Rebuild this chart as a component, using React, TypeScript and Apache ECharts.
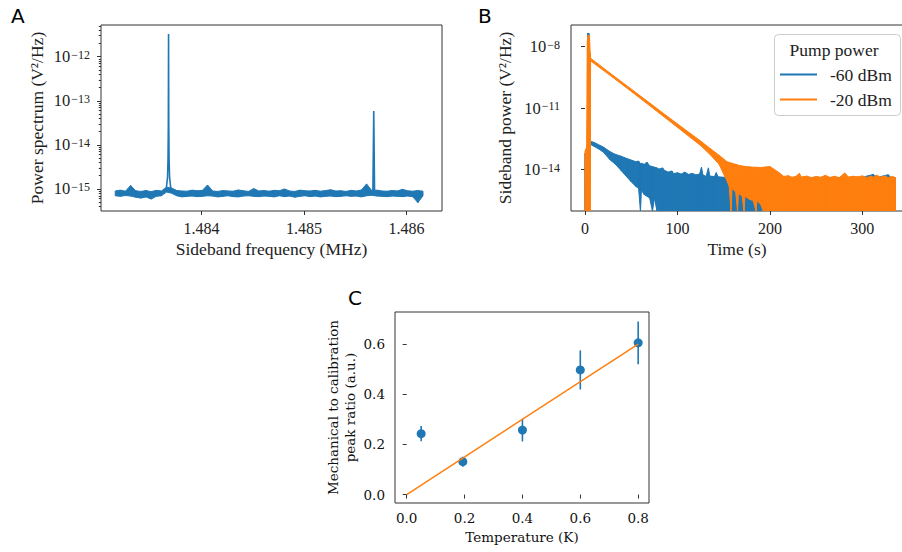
import React, { useEffect, useRef } from "react";
import * as echarts from "echarts";

// ---------------- Panel A: power spectrum ----------------
const A_FREQ_START = 1.48316; // MHz, first noise bin
const A_FREQ_STEP = 0.00005; // MHz per bin
// noise floor envelope per bin, in units of 1e-16 V^2/Hz
const aNoiseUpper = [
  9.0, 9.4, 8.9, 12.0, 9.1, 8.8, 9.2, 8.7, 9.3, 9.0, 11.0, 10.5, 9.2, 9.0, 8.9, 9.4, 9.1, 9.3, 12.3, 9.0,
  8.8, 9.2, 9.0, 8.9, 9.5, 9.1, 8.8, 10.2, 9.0, 9.2, 8.9, 9.3, 9.1, 10.0, 9.0, 8.8, 9.4, 9.1, 9.0, 9.3,
  8.9, 9.2, 9.6, 9.0, 9.1, 8.8, 9.3, 9.0, 9.5, 13.0, 9.2, 9.4, 9.0, 8.9, 9.2, 9.0, 9.8, 9.1, 8.9, 9.2,
  8.9,
];
const aNoiseLower = [
  7.0, 6.8, 7.1, 6.9, 6.5, 6.2, 6.6, 5.9, 6.8, 7.0, 8.5, 8.0, 7.0, 6.6, 6.8, 6.9, 6.7, 6.8, 7.0, 6.9,
  6.6, 6.8, 7.0, 6.7, 6.6, 6.9, 7.0, 6.8, 6.7, 6.9, 6.8, 6.6, 7.0, 6.7, 6.9, 6.5, 6.8, 7.0, 6.7, 6.9,
  6.6, 6.8, 6.9, 6.7, 6.8, 7.0, 6.8, 6.9, 6.6, 7.0, 7.2, 6.9, 6.8, 6.7, 6.9, 6.8, 6.7, 6.9, 6.7, 4.9,
  7.0,
];
// [frequency MHz, power V^2/Hz]
const aPeak1: [number, number][] = [
  [1.483655, 9e-16], [1.48367, 1.8e-15], [1.483675, 5e-15], [1.483678, 3e-14],
  [1.48368, 3.3e-12], [1.483682, 3e-14], [1.483685, 5e-15], [1.48369, 1.8e-15],
  [1.483705, 9e-16],
];
const aPeak2: [number, number][] = [[1.485672, 9e-16], [1.48568, 5.9e-14], [1.485688, 9e-16]];
const aXTicks = [1.484, 1.485, 1.486];
const aYTickExps = [-15, -14, -13, -12];

// ---------------- Panel B: ring-down ----------------
// [time s, upper envelope V^2/Hz, lower envelope V^2/Hz]
const bBlue: [number, number, number][] = [
  [0, 9e-17, 9e-17], [0.2, 6.3e-14, 9e-17], [2.6, 6.3e-14, 9e-17], [3.0, 4.5e-8, 9e-17],
  [4.2, 4.5e-8, 9e-17], [4.8, 2.5e-13, 9e-17], [5.1, 2.5e-13, 2e-15], [5.6, 2.4e-13, 1.7e-13],
  [10, 2.1e-13, 1.35e-13], [15, 1.6e-13, 1.0e-13], [20, 1.25e-13, 7e-14], [27, 7.5e-14, 3e-14],
  [33, 5.5e-14, 1.8e-14], [39, 4.5e-14, 9e-15], [45, 3.5e-14, 4.5e-15], [50, 2.9e-14, 2.5e-15],
  [55, 2.4e-14, 1.5e-15], [58, 2.6e-14, 1.2e-15], [60, 1.9e-14, 9e-17], [61, 2.0e-14, 1e-15],
  [64, 1.8e-14, 6e-16], [67, 2.3e-14, 5e-16], [70, 1.5e-14, 4e-16], [73, 1.4e-14, 9e-17],
  [75, 1.3e-14, 4e-16], [78, 1.2e-14, 9e-17], [80, 1.05e-14, 9e-17], [84, 1.2e-14, 9e-17],
  [86, 9e-15, 9e-17], [90, 7.5e-15, 9e-17], [94, 8.5e-15, 9e-17], [96, 6.3e-15, 9e-17],
  [100, 7e-15, 9e-17], [104, 6e-15, 9e-17], [108, 7.5e-15, 9e-17], [112, 5.8e-15, 9e-17],
  [116, 6.5e-15, 9e-17], [120, 5.5e-15, 9e-17], [124, 6e-15, 9e-17], [126, 1.3e-14, 9e-17],
  [127.5, 5.5e-15, 9e-17], [131, 4.6e-15, 9e-17], [133.5, 1.2e-14, 9e-17], [135, 4.8e-15, 9e-17],
  [140, 4.5e-15, 9e-17], [142, 7e-15, 9e-17], [144, 4.4e-15, 9e-17], [150, 4.2e-15, 9e-17],
  [160, 4.4e-15, 9e-17], [170, 3.9e-15, 9e-17], [180, 4.1e-15, 9e-17], [200, 4.0e-15, 9e-17],
  [240, 3.9e-15, 9e-17], [280, 4.0e-15, 9e-17], [300, 4.2e-15, 9e-17], [312, 5.8e-15, 9e-17],
  [315, 4.0e-15, 9e-17], [328, 5.6e-15, 9e-17], [331, 4.1e-15, 9e-17], [335.5, 4.0e-15, 9e-17],
  [335.6, 9e-17, 9e-17],
];
const bOrange: [number, number, number][] = [
  [0, 9e-17, 9e-17], [0.3, 8e-14, 9e-17], [1.8, 1.3e-13, 9e-17], [2.6, 2e-8, 9e-17],
  [3.4, 3.7e-8, 9e-17], [4.8, 3.5e-8, 9e-17], [5.6, 5e-9, 9e-17], [6.0, 2.75e-9, 2.04e-9],
  [30, 4.1e-10, 3.2e-10], [60, 3.9e-11, 2.95e-11], [90, 3.7e-12, 2.6e-12], [110, 7.8e-13, 5.1e-13],
  [125, 2.5e-13, 1.5e-13], [135, 1.1e-13, 5.6e-14], [145, 5e-14, 1.8e-14], [150, 3.3e-14, 6e-15],
  [153, 2.5e-14, 3.2e-15], [156, 2.2e-14, 1.5e-15], [158, 2.1e-14, 9e-17], [159, 2.0e-14, 1.2e-15],
  [163, 1.8e-14, 8e-16], [165, 1.7e-14, 9e-17], [166, 1.6e-14, 7e-16], [170, 1.5e-14, 5e-16],
  [172, 1.45e-14, 9e-17], [173, 1.4e-14, 5e-16], [178, 1.35e-14, 3.5e-16], [182, 1.3e-14, 3e-16],
  [185, 1.3e-14, 9e-17], [186, 1.28e-14, 3e-16], [190, 1.25e-14, 2e-16], [193, 1.3e-14, 9e-17],
  [200, 1.4e-14, 9e-17], [205, 1.0e-14, 9e-17], [210, 7e-15, 9e-17], [215, 4.6e-15, 9e-17],
  [220, 5e-15, 9e-17], [224, 4.2e-15, 9e-17], [228, 4.6e-15, 9e-17], [232, 6.5e-15, 9e-17],
  [234, 4.3e-15, 9e-17], [240, 4.8e-15, 9e-17], [245, 4.0e-15, 9e-17], [250, 4.6e-15, 9e-17],
  [255, 4.2e-15, 9e-17], [260, 5.2e-15, 9e-17], [265, 4.1e-15, 9e-17], [270, 4.7e-15, 9e-17],
  [275, 4.0e-15, 9e-17], [281, 6.8e-15, 9e-17], [285, 4.3e-15, 9e-17], [290, 4.7e-15, 9e-17],
  [295, 4.4e-15, 9e-17], [300, 4.9e-15, 9e-17], [305, 4.1e-15, 9e-17], [310, 4.7e-15, 9e-17],
  [312, 4.2e-15, 9e-17], [315, 5.3e-15, 9e-17], [320, 4.3e-15, 9e-17], [325, 4.8e-15, 9e-17],
  [328, 4.0e-15, 9e-17], [333, 4.6e-15, 9e-17], [335.5, 4.0e-15, 9e-17], [335.6, 9e-17, 9e-17],
];
const bSeriesNames = ["-60 dBm", "-20 dBm"];
const bXTicks = [0, 100, 200, 300];
const bYTickExps = [-14, -11, -8];

// ---------------- Panel C: temperature calibration ----------------
const cTemp = [0.05, 0.194, 0.4, 0.6, 0.8];
const cRatio = [0.243, 0.131, 0.257, 0.497, 0.605];
const cErr = [0.03, 0.02, 0.045, 0.078, 0.085];
const cFitTemp = [0, 0.8];
const cFitRatio = [0, 0.6];
const cXTicks = [0, 0.2, 0.4, 0.6, 0.8];
const cYTicks = [0, 0.2, 0.4, 0.6];

const BLUE = "#1f77b4";
const ORANGE = "#ff7f0e";
const SPINE = "#333333";
const SERIF_TEX = "'Liberation Serif', serif";
const SERIF_DV = "'DejaVu Serif', serif";

const texLabelColor = "#222222";

function logAxisLabel(margin: number) {
  return {
    margin,
    color: texLabelColor,
    formatter: (v: number) => `{b|10}{s|\u2212${Math.round(-v)}}`,
    rich: {
      b: { fontFamily: SERIF_TEX, fontSize: 16.5, lineHeight: 16, color: texLabelColor },
      s: { fontFamily: SERIF_TEX, fontSize: 12, lineHeight: 9, verticalAlign: "top", color: texLabelColor, padding: [0, 0, 0, 1] },
    },
  };
}

function bandSeries(
  name: string,
  rows: [number, number, number][],
  color: string,
  z: number,
  xAxisIndex: number,
  yAxisIndex: number
) {
  const data = [] as number[][];
  for (let i = 0; i < rows.length - 1; i++) {
    const a = rows[i];
    const b = rows[i + 1];
    data.push([a[0], Math.log10(a[1]), Math.log10(a[2]), b[0], Math.log10(b[1]), Math.log10(b[2])]);
  }
  return {
    type: "custom",
    name,
    xAxisIndex,
    yAxisIndex,
    clip: true,
    z,
    itemStyle: { color },
    encode: { x: [0, 3], y: [1, 2, 4, 5] },
    renderItem: (_p: any, api: any) => {
      const p0 = api.coord([api.value(0), api.value(1)]);
      const p1 = api.coord([api.value(3), api.value(4)]);
      const p2 = api.coord([api.value(3), api.value(5)]);
      const p3 = api.coord([api.value(0), api.value(2)]);
      return {
        type: "polygon",
        shape: { points: [p0, p1, p2, p3] },
        style: { fill: color, stroke: color, lineWidth: 1, lineJoin: "round" },
      };
    },
    data,
  };
}

export default function App() {
  const ref = useRef<HTMLDivElement>(null);

  useEffect(() => {
    document.body.style.margin = "0";
    if (!ref.current) return;
    const chart = echarts.init(ref.current, undefined, { renderer: "svg" });

    const aMinor: number[] = [];
    for (let n = -16; n <= -12; n++) {
      for (let k = 2; k <= 9; k++) {
        const l = n + Math.log10(k);
        if (l > -15.5 && l < -11.28) aMinor.push(l);
      }
    }

    const texName = { fontFamily: SERIF_TEX, fontSize: 17.5, color: texLabelColor };
    const texTick = { fontFamily: SERIF_TEX, fontSize: 16, color: texLabelColor };
    const dvName = { fontFamily: SERIF_DV, fontSize: 13.5, color: "#111" };
    const tickStyle = { lineStyle: { color: SPINE, width: 1 } };
    const gridBase = {
      show: true,
      borderColor: SPINE,
      borderWidth: 1,
      backgroundColor: "transparent",
      containLabel: false,
      outerBoundsMode: "none",
    };

    const aNoiseRows = aNoiseUpper.map(
      (u, i) => [A_FREQ_START + i * A_FREQ_STEP, u * 1e-16, aNoiseLower[i] * 1e-16] as [number, number, number]
    );

    const option: any = {
      animation: false,
      grid: [
        { ...gridBase, left: 101, top: 25, width: 341, height: 186 },
        { ...gridBase, left: 571, top: 25, width: 332, height: 186 },
        { ...gridBase, left: 395, top: 312, width: 254, height: 191 },
      ],
      xAxis: [
        {
          gridIndex: 0,
          type: "value",
          min: 1.4830215,
          max: 1.4863454,
          axisLine: { show: false },
          splitLine: { show: false },
          axisTick: { customValues: aXTicks, length: 4, ...tickStyle },
          axisLabel: { customValues: aXTicks, formatter: (v: number) => v.toFixed(3), margin: 9, ...texTick },
          name: "Sideband frequency (MHz)",
          nameLocation: "middle",
          nameGap: 29,
          nameTextStyle: texName,
        },
        {
          gridIndex: 1,
          type: "value",
          min: -15.15,
          max: 344,
          axisLine: { show: false },
          splitLine: { show: false },
          axisTick: { customValues: bXTicks, length: 4, ...tickStyle },
          axisLabel: { customValues: bXTicks, formatter: (v: number) => String(v), margin: 9, ...texTick },
          name: "Time (s)",
          nameLocation: "middle",
          nameGap: 29,
          nameTextStyle: texName,
        },
        {
          gridIndex: 2,
          type: "value",
          min: -0.0404,
          max: 0.8374,
          axisLine: { show: false },
          splitLine: { show: false },
          axisTick: { customValues: cXTicks, length: 4, ...tickStyle },
          axisLabel: { customValues: cXTicks, formatter: (v: number) => v.toFixed(1), margin: 8, ...dvName },
          name: "Temperature (K)",
          nameLocation: "middle",
          nameGap: 27,
          nameTextStyle: dvName,
        },
      ],
      yAxis: [
        {
          gridIndex: 0,
          position: "left",
          type: "value",
          min: -15.5,
          max: -11.28,
          axisLine: { show: false },
          splitLine: { show: false },
          axisTick: { customValues: aYTickExps, length: 4, ...tickStyle },
          axisLabel: { customValues: aYTickExps, ...logAxisLabel(11) },
          name: "Power spectrum (V\u00b2/Hz)",
          nameLocation: "middle",
          nameGap: 55,
          nameTextStyle: texName,
        },
        {
          gridIndex: 0,
          position: "left",
          type: "value",
          min: -15.5,
          max: -11.28,
          axisLine: { show: false },
          splitLine: { show: false },
          axisTick: { customValues: aMinor, length: 2.2, ...tickStyle },
          axisLabel: { show: false },
        },
        {
          gridIndex: 1,
          position: "left",
          type: "value",
          min: -16.026,
          max: -6.938,
          axisLine: { show: false },
          splitLine: { show: false },
          axisTick: { customValues: bYTickExps, length: 4, ...tickStyle },
          axisLabel: { customValues: bYTickExps, ...logAxisLabel(11) },
          name: "Sideband power (V\u00b2/Hz)",
          nameLocation: "middle",
          nameGap: 57,
          nameTextStyle: texName,
        },
        {
          gridIndex: 2,
          position: "left",
          type: "value",
          min: -0.0336,
          max: 0.728,
          axisLine: { show: false },
          splitLine: { show: false },
          axisTick: { customValues: cYTicks, length: 4, ...tickStyle },
          axisLabel: { customValues: cYTicks, formatter: (v: number) => v.toFixed(1), margin: 10, ...dvName },
          name: "Mechanical to calibration\npeak ratio (a.u.)",
          nameLocation: "middle",
          nameGap: 37,
          nameTextStyle: { ...dvName, lineHeight: 16.6 },
        },
      ],
      series: [
        bandSeries("spectrum", aNoiseRows, BLUE, 2, 0, 0),
        {
          type: "line",
          xAxisIndex: 0,
          yAxisIndex: 0,
          symbol: "none",
          lineStyle: { color: BLUE, width: 1.6 },
          data: aPeak1.map(([f, v]) => [f, Math.log10(v)]),
          z: 3,
        },
        {
          type: "line",
          xAxisIndex: 0,
          yAxisIndex: 0,
          symbol: "none",
          lineStyle: { color: BLUE, width: 1.6 },
          data: aPeak2.map(([f, v]) => [f, Math.log10(v)]),
          z: 3,
        },
        bandSeries(bSeriesNames[0], bBlue, BLUE, 2, 1, 2),
        bandSeries(bSeriesNames[1], bOrange, ORANGE, 3, 1, 2),
        {
          type: "custom",
          xAxisIndex: 2,
          yAxisIndex: 3,
          z: 2,
          encode: { x: 0, y: [1, 2] },
          renderItem: (_p: any, api: any) => {
            const lo = api.coord([api.value(0), api.value(1)]);
            const hi = api.coord([api.value(0), api.value(2)]);
            return {
              type: "line",
              shape: { x1: lo[0], y1: lo[1], x2: hi[0], y2: hi[1] },
              style: { stroke: BLUE, lineWidth: 1.6 },
            };
          },
          data: cTemp.map((t, i) => [t, cRatio[i] - cErr[i], cRatio[i] + cErr[i]]),
        },
        {
          type: "scatter",
          xAxisIndex: 2,
          yAxisIndex: 3,
          symbol: "circle",
          symbolSize: 9,
          itemStyle: { color: BLUE, opacity: 1 },
          z: 3,
          data: cTemp.map((t, i) => [t, cRatio[i]]),
        },
        {
          type: "line",
          xAxisIndex: 2,
          yAxisIndex: 3,
          symbol: "none",
          lineStyle: { color: ORANGE, width: 1.5 },
          z: 4,
          data: cFitTemp.map((t, i) => [t, cFitRatio[i]]),
        },
      ],
      graphic: [
        { type: "text", x: 11, y: 16, z: 100, style: { text: "A", fontFamily: "'DejaVu Sans', sans-serif", fontSize: 20, fill: "#000", verticalAlign: "middle" } },
        { type: "text", x: 478, y: 16, z: 100, style: { text: "B", fontFamily: "'DejaVu Sans', sans-serif", fontSize: 20, fill: "#000", verticalAlign: "middle" } },
        { type: "text", x: 348, y: 298, z: 100, style: { text: "C", fontFamily: "'DejaVu Sans', sans-serif", fontSize: 20, fill: "#000", verticalAlign: "middle" } },
        {
          type: "rect",
          z: 100,
          shape: { x: 774.5, y: 34.5, width: 126, height: 81, r: 4 },
          style: { fill: "rgba(255,255,255,0.8)", stroke: "#cccccc", lineWidth: 1 },
        },
        { type: "text", x: 834, y: 50, z: 101, style: { text: "Pump power", fontFamily: SERIF_TEX, fontSize: 17.5, fill: texLabelColor, align: "center", verticalAlign: "middle" } },
        { type: "line", z: 101, shape: { x1: 780, y1: 74.5, x2: 817, y2: 74.5 }, style: { stroke: BLUE, lineWidth: 2 } },
        { type: "line", z: 101, shape: { x1: 780, y1: 99.5, x2: 817, y2: 99.5 }, style: { stroke: ORANGE, lineWidth: 2 } },
        { type: "text", x: 830, y: 75, z: 101, style: { text: bSeriesNames[0], fontFamily: SERIF_TEX, fontSize: 17.5, fill: texLabelColor, verticalAlign: "middle" } },
        { type: "text", x: 830, y: 100, z: 101, style: { text: bSeriesNames[1], fontFamily: SERIF_TEX, fontSize: 17.5, fill: texLabelColor, verticalAlign: "middle" } },
      ],
    };

    chart.setOption(option);
    return () => {
      chart.dispose();
    };
  }, []);

  return <div ref={ref} style={{ width: 902, height: 552 }} />;
}
